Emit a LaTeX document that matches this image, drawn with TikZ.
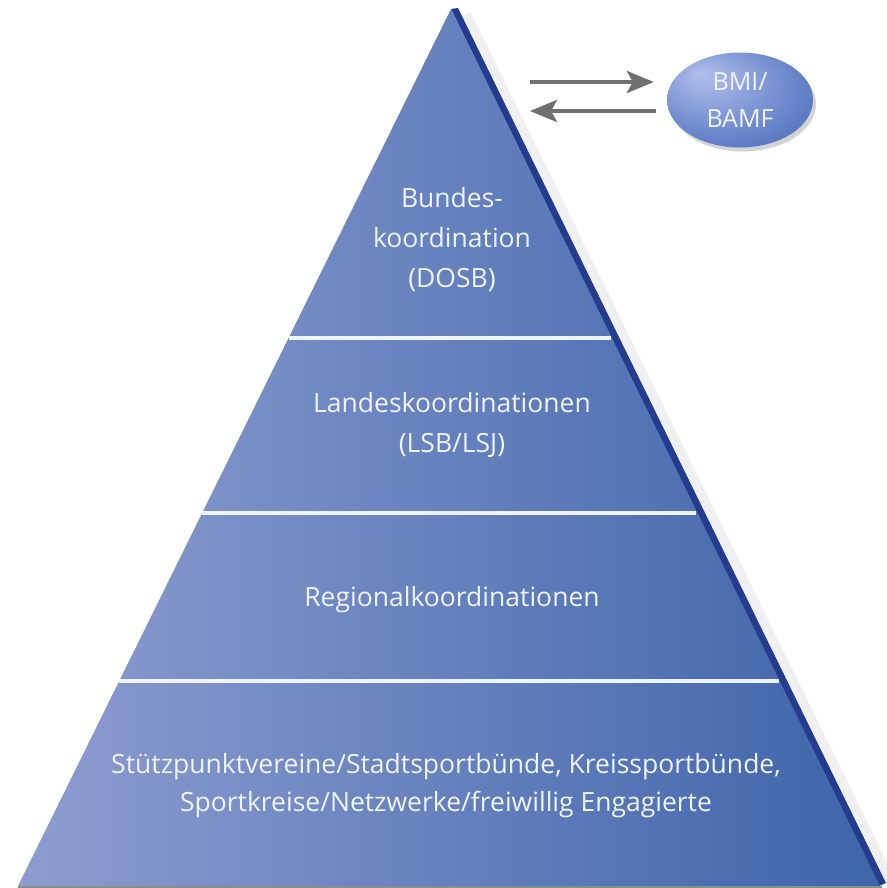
\documentclass[tikz,border=0pt]{standalone}
\usepackage{fontspec}
\setmainfont{Open Sans}
\usepackage{tikz}
\usetikzlibrary{arrows.meta,shapes.geometric,positioning,shadows}
\usepackage{xcolor}
\definecolor{pyrlight}{RGB}{141,157,208}
\definecolor{pyrdark}{RGB}{62,100,170}
\definecolor{pyredge}{RGB}{36,60,140}
\definecolor{sepline}{RGB}{238,243,252}
\definecolor{arrgray}{RGB}{112,112,112}
\definecolor{bmilight}{RGB}{178,192,236}
\definecolor{bmimid}{RGB}{100,128,200}
\definecolor{bmidark}{RGB}{52,82,162}
\pgfdeclareradialshading{bmiball}{\pgfpoint{-14bp}{14bp}}{color(0bp)=(bmilight); color(28bp)=(bmimid); color(50bp)=(bmidark)}
\tikzstyle{flow} = [line width=4pt,-{Stealth[length=27pt,width=22pt,inset=6pt]},color=arrgray]
\tikzstyle{levtext} = [text=sepline,align=center,font=\fontsize{26.5}{40}\selectfont]
\tikzstyle{sep} = [line width=3.5pt,color=sepline]

\begin{document}
\begin{tikzpicture}[x=1pt,y=-1pt]
\useasboundingbox (0,0) rectangle (886,888);
% Pyramid
\draw[line width=10pt, black!6] (466,14) -- (892,884);
\fill[pyredge] (451,9) -- (458,8) -- (886,883) -- (879,886) -- cycle;
\shade[left color=pyrlight, right color=pyrdark] (451,9) -- (880,886) -- (18,886) -- cycle;
\draw[line width=2pt, black!45] (18,887) -- (882,887);

% Levels
\draw[sep] (289,338) -- (611,338);
\draw[sep] (202,513) -- (696,513);
\draw[sep] (119,681) -- (779,681);

\node[levtext] (bund) at (452,240) {Bundes-\\koordination\\(DOSB)};
\node[levtext] (land) at (452,425) {Landeskoordinationen\\(LSB/LSJ)};
\node[levtext] (regio) at (452,600) {Regionalkoordinationen};
\node[levtext, font=\fontsize{26.5}{38}\selectfont] (stuetz) at (446,786) {Stützpunktvereine/Stadtsportbünde, Kreissportbünde,\\Sportkreise/Netzwerke/freiwillig Engagierte};

% Ministry
\node[ellipse, minimum width=146pt, minimum height=95pt, shading=bmiball,
  drop shadow={shadow xshift=3pt, shadow yshift=-4pt, opacity=0.35},
  text=sepline, align=center, font=\fontsize{25}{37}\selectfont] (bmi) at (740,100) {BMI/\\BAMF};

\coordinate (upstart) at (530,82);
\coordinate (downend) at (530,111);
\draw[flow, shorten >=13pt] (upstart) -- (upstart -| bmi.west);
\draw[flow, shorten <=11pt] (downend -| bmi.west) -- (downend);
\end{tikzpicture}
\end{document}
